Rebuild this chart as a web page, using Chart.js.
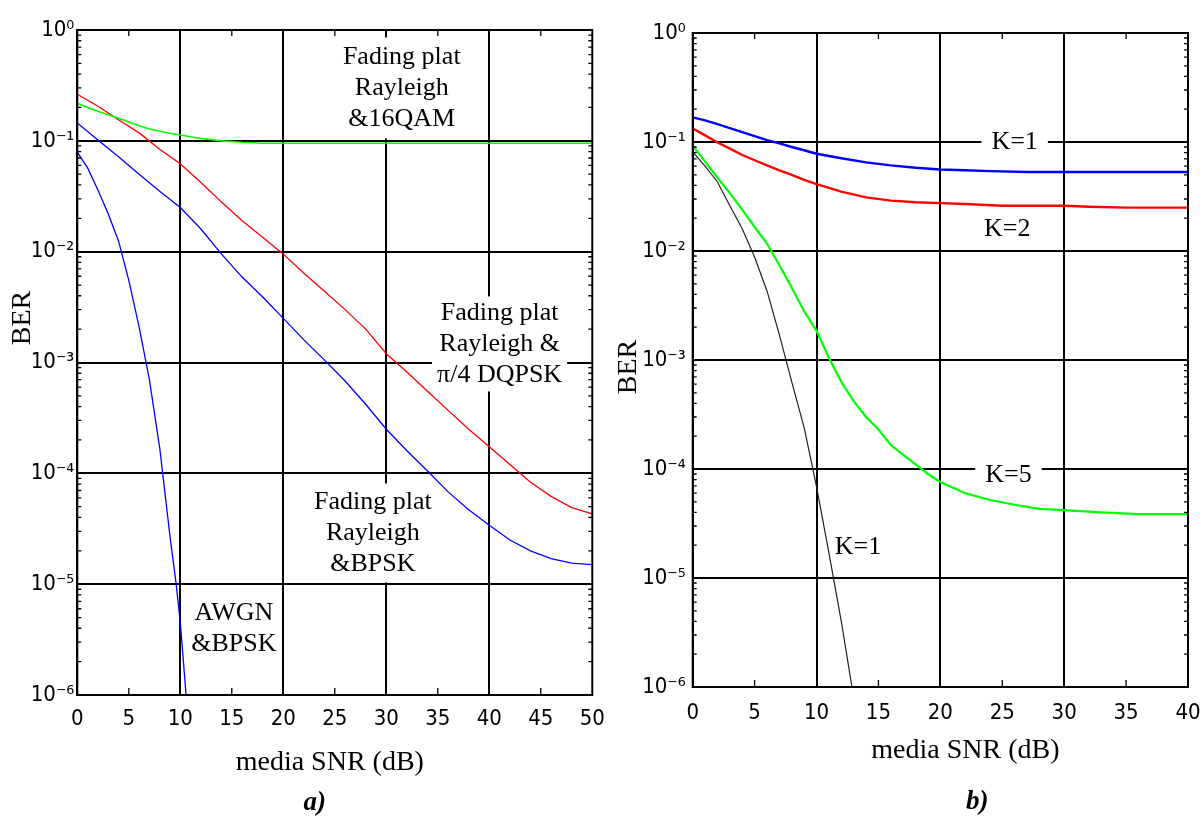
<!DOCTYPE html>
<html>
<head>
<meta charset="utf-8">
<title>BER vs media SNR</title>
<script src="https://cdn.jsdelivr.net/npm/chart.js@4.4.0/dist/chart.umd.min.js"></script>
<style>
  html, body { margin: 0; padding: 0; background: #fff; }
  #wrap { position: relative; width: 1203px; height: 819px; overflow: hidden; background: #fff; }
  canvas { position: absolute; top: 0; }
  #chartA { left: 0; }
  #chartB { left: 600px; }
</style>
</head>
<body>
<div id="wrap">
  <canvas id="chartA" width="615" height="819"></canvas>
  <canvas id="chartB" width="603" height="819"></canvas>
</div>
<script>
// ---------- panel a) ----------
const awgnSnr = [0, 1, 2, 3, 4, 5, 6, 7, 8, 9, 9.6, 10, 10.6];
const awgnBer = [0.079, 0.057, 0.036, 0.022, 0.0125, 0.0055, 0.0021, 0.0007, 0.00017, 0.000027, 0.00001, 0.0000045, 0.0000009];

const fadeSnr = [0, 2, 4, 6, 8, 10, 12, 14, 16, 18, 20, 22, 24, 26, 28, 30, 32, 34, 36, 38, 40, 42, 44, 46, 48, 50];
const fadeBpskBer = [0.145, 0.102, 0.072, 0.05, 0.035, 0.025, 0.016, 0.0095, 0.0059, 0.0039, 0.0025, 0.0016, 0.00105, 0.00068, 0.00042,
  0.00025, 0.00016, 0.000105, 0.000068, 0.000047, 0.000034, 0.000025, 0.00002, 0.000017, 0.0000155, 0.000015];
const fadeDqpskBer = [0.263, 0.205, 0.155, 0.118, 0.084, 0.062, 0.042, 0.028, 0.019, 0.0135, 0.0095, 0.0064, 0.0044, 0.003, 0.002,
  0.0012, 0.00082, 0.00055, 0.00037, 0.00025, 0.000174, 0.00012, 0.000083, 0.000062, 0.000049, 0.000043];

const qamSnr = [0, 1, 2, 3, 4, 5, 6, 7, 8, 9, 10, 12, 14, 16, 18, 20, 30, 40, 50];
const qamBer = [0.218, 0.2, 0.185, 0.172, 0.16, 0.148, 0.137, 0.128, 0.122, 0.117, 0.113, 0.105, 0.1, 0.097, 0.095, 0.095, 0.095, 0.095, 0.095];

// ---------- panel b) ----------
const k1Snr = [0, 1, 2, 3, 4, 5, 6, 7, 8, 9, 10, 12, 14, 16, 18, 20, 22, 24, 27, 30, 35, 40];
const k1Ber = [0.168, 0.158, 0.146, 0.134, 0.123, 0.113, 0.104, 0.097, 0.09, 0.084, 0.078, 0.071, 0.065, 0.061, 0.058, 0.056, 0.055, 0.054, 0.053, 0.053, 0.053, 0.053];

const k2Snr = [0, 1, 2, 3, 4, 5, 6, 7, 8, 9, 10, 12, 14, 16, 18, 20, 22, 25, 30, 32, 35, 40];
const k2Ber = [0.133, 0.115, 0.099, 0.087, 0.076, 0.068, 0.061, 0.055, 0.05, 0.045, 0.041, 0.035, 0.031, 0.029, 0.028, 0.0275, 0.027, 0.026, 0.026, 0.0255, 0.025, 0.025];

const k5Snr = [0, 1, 2, 3, 4, 5, 6, 7, 8, 9, 10, 11, 12, 13, 14, 15, 16, 17, 18, 19, 20, 22, 24, 26, 28, 30, 33, 36, 40];
const k5Ber = [0.093, 0.066, 0.047, 0.034, 0.024, 0.0166, 0.0117, 0.0074, 0.0046, 0.0028, 0.00185, 0.00105, 0.00063, 0.00042, 0.0003,
  0.00023, 0.000166, 0.000135, 0.00011, 0.00009, 0.000076, 0.00006, 0.000052, 0.000047, 0.000043, 0.000042, 0.00004, 0.0000385, 0.0000385];

const awgnKSnr = [0, 1, 2, 3, 4, 5, 6, 7, 8, 9, 10, 11, 12, 13];
const awgnKBer = [0.081, 0.06, 0.043, 0.026, 0.016, 0.0088, 0.0043, 0.0017, 0.00063, 0.00024, 0.000069, 0.000017, 0.000004, 0.0000008];

// ---------- ticks ----------
const berTicks = [1e-6, 1e-5, 1e-4, 1e-3, 1e-2, 1e-1, 1];
const snrTicksA = [0, 5, 10, 15, 20, 25, 30, 35, 40, 45, 50];
const snrTicksB = [0, 5, 10, 15, 20, 25, 30, 35, 40];
const snrGridA = [10, 20, 30, 40];
const snrGridB = [10, 20, 30];

const SUP = { '-': '\u207B', '0': '\u2070', '1': '\u00B9', '2': '\u00B2', '3': '\u00B3', '4': '\u2074', '5': '\u2075', '6': '\u2076' };
const decadeLabel = (v) => {
    const e = Math.round(Math.log10(v));
    return '10' + String(e).split('').map(c => SUP[c]).join('');
};

const pts = (xs, ys) => xs.map((x, i) => ({ x: x, y: ys[i] }));

const tickFont = { family: "'Liberation Sans Narrow', 'DejaVu Sans Condensed', 'Liberation Sans', sans-serif", size: 22 };
const serif = "'Liberation Serif', 'Times New Roman', serif";

// white-boxed notes, frame with inward ticks, axis titles
const berDecor = {
    id: 'berDecor',
    beforeDatasetsDraw(chart, args, opts) {
        const ctx = chart.ctx;
        const xs = chart.scales.x, ys = chart.scales.y;
        ctx.save();
        ctx.font = `26px ${serif}`;
        ctx.textAlign = 'center';
        ctx.textBaseline = 'middle';
        opts.notes.forEach(note => {
            const cx = xs.getPixelForValue(note.x);
            const cy = ys.getPixelForValue(note.y);
            const lh = 31;
            const w = Math.max(...note.lines.map(t => ctx.measureText(t).width)) + 2 * note.padX;
            const h = note.lines.length * lh + 2 * note.padY;
            ctx.fillStyle = '#fff';
            ctx.fillRect(cx - w / 2, cy - h / 2, w, h);
            ctx.fillStyle = '#000';
            note.lines.forEach((t, i) => {
                ctx.fillText(t, cx, cy + (i - (note.lines.length - 1) / 2) * lh);
            });
        });
        ctx.restore();
    },
    afterDatasetsDraw(chart, args, opts) {
        const ctx = chart.ctx;
        const { left, right, top, bottom } = chart.chartArea;
        const xs = chart.scales.x, ys = chart.scales.y;
        ctx.save();
        ctx.strokeStyle = '#000';
        ctx.lineWidth = 1.3;
        ctx.beginPath();
        for (let d = -6; d < 0; d++) {
            for (let m = 2; m <= 9; m++) {
                const py = ys.getPixelForValue(m * Math.pow(10, d));
                ctx.moveTo(left, py); ctx.lineTo(left + 4, py);
                ctx.moveTo(right, py); ctx.lineTo(right - 4, py);
            }
        }
        opts.minorX.forEach(v => {
            const px = xs.getPixelForValue(v);
            ctx.moveTo(px, bottom); ctx.lineTo(px, bottom - 7);
            ctx.moveTo(px, top); ctx.lineTo(px, top + 6);
        });
        ctx.stroke();
        ctx.lineWidth = 2;
        ctx.strokeRect(left, top, right - left, bottom - top);
        ctx.restore();
    },
    afterDraw(chart, args, opts) {
        const ctx = chart.ctx;
        const { left, right, top, bottom } = chart.chartArea;
        const mid = (left + right) / 2;
        ctx.save();
        ctx.fillStyle = '#000';
        ctx.textAlign = 'center';
        ctx.textBaseline = 'middle';
        ctx.font = `28px ${serif}`;
        ctx.fillText(opts.xTitle.text, mid + opts.xTitle.dx, bottom + opts.xTitle.dy);
        ctx.save();
        ctx.translate(left + opts.yTitle.dx, top + opts.yTitle.dy);
        ctx.rotate(-Math.PI / 2);
        ctx.fillText(opts.yTitle.text, 0, 0);
        ctx.restore();
        ctx.font = `italic bold 27px ${serif}`;
        ctx.fillText(opts.tag.text, mid + opts.tag.dx, bottom + opts.tag.dy);
        ctx.restore();
    }
};

const makePanel = (id, p) => {
    const canvas = document.getElementById(id);
    return new Chart(canvas, {
        type: 'line',
        data: { datasets: p.datasets },
        options: {
            responsive: false,
            animation: false,
            events: [],
            layout: { autoPadding: false, padding: { top: p.top, right: canvas.width - p.right, left: 0, bottom: 0 } },
            elements: { point: { radius: 0 }, line: { tension: 0 } },
            plugins: {
                legend: { display: false },
                tooltip: { enabled: false },
                berDecor: p.decor
            },
            scales: {
                x: {
                    type: 'linear', min: 0, max: p.xMax,
                    afterBuildTicks: s => { s.ticks = p.xTicks.map(v => ({ value: v })); },
                    afterFit: s => { s.height = canvas.height - p.bottom; s.paddingLeft = 0; s.paddingRight = 0; },
                    ticks: { autoSkip: false, maxRotation: 0, padding: p.xPad, color: '#000', font: tickFont, callback: v => String(v) },
                    grid: { color: c => p.xGrid.includes(c.tick.value) ? '#000' : 'rgba(0,0,0,0)', lineWidth: 2, drawTicks: false },
                    border: { display: true, color: '#000', width: 2 }
                },
                y: {
                    type: 'logarithmic', min: 1e-6, max: 1,
                    afterBuildTicks: s => { s.ticks = berTicks.map(v => ({ value: v, major: true })); },
                    afterFit: s => { s.width = p.left; s.paddingTop = 0; s.paddingBottom = 0; },
                    ticks: { autoSkip: false, padding: p.yPad, color: '#000', font: tickFont, callback: v => decadeLabel(v) },
                    grid: { color: '#000', lineWidth: 2, drawTicks: false },
                    border: { display: true, color: '#000', width: 2 }
                }
            }
        },
        plugins: [berDecor]
    });
};

makePanel('chartA', {
    left: 77.3, right: 592.3, top: 30, bottom: 695,
    xMax: 50, xTicks: snrTicksA, xGrid: snrGridA, xPad: 11, yPad: 3,
    datasets: [
        { data: pts(qamSnr, qamBer), borderColor: '#00ff00', borderWidth: 1.6 },
        { data: pts(fadeSnr, fadeDqpskBer), borderColor: '#ff0000', borderWidth: 1.3 },
        { data: pts(fadeSnr, fadeBpskBer), borderColor: '#0000ff', borderWidth: 1.3 },
        { data: pts(awgnSnr, awgnBer), borderColor: '#0000ff', borderWidth: 1.3 }
    ],
    decor: {
        minorX: [5, 15, 25, 35, 45],
        notes: [
            { x: 31.5, y: 0.3, padX: 6, padY: 4, lines: ['Fading plat', 'Rayleigh', '&16QAM'] },
            { x: 41.0, y: 0.00147, padX: 5, padY: 1, lines: ['Fading plat', 'Rayleigh &', '\u03C0/4 DQPSK'] },
            { x: 28.7, y: 0.000029, padX: 6, padY: 3, lines: ['Fading plat', 'Rayleigh', '&BPSK'] },
            { x: 15.2, y: 0.000004, padX: 4, padY: 2, lines: ['AWGN', '&BPSK'] }
        ],
        xTitle: { text: 'media SNR (dB)', dx: -5, dy: 68 },
        yTitle: { text: 'BER', dx: -55, dy: 288 },
        tag: { text: 'a)', dx: -20, dy: 108 }
    }
});

makePanel('chartB', {
    left: 92.7, right: 588, top: 33, bottom: 687,
    xMax: 40, xTicks: snrTicksB, xGrid: snrGridB, xPad: 13, yPad: 7,
    datasets: [
        { data: pts(k1Snr, k1Ber), borderColor: '#0000ff', borderWidth: 2.4 },
        { data: pts(k2Snr, k2Ber), borderColor: '#ff0000', borderWidth: 2.4 },
        { data: pts(k5Snr, k5Ber), borderColor: '#00ff00', borderWidth: 2.2 },
        { data: pts(awgnKSnr, awgnKBer), borderColor: '#222222', borderWidth: 1.2 }
    ],
    decor: {
        minorX: [5, 15, 25, 35],
        notes: [
            { x: 26.0, y: 0.1, padX: 10, padY: 2, lines: ['K=1'] },
            { x: 25.4, y: 0.0159, padX: 8, padY: 2, lines: ['K=2'] },
            { x: 25.5, y: 0.000088, padX: 10, padY: 2, lines: ['K=5'] },
            { x: 13.35, y: 0.0000192, padX: 4, padY: 2, lines: ['K=1'] }
        ],
        xTitle: { text: 'media SNR (dB)', dx: 25, dy: 64 },
        yTitle: { text: 'BER', dx: -64, dy: 334 },
        tag: { text: 'b)', dx: 37, dy: 115 }
    }
});
</script>
</body>
</html>
